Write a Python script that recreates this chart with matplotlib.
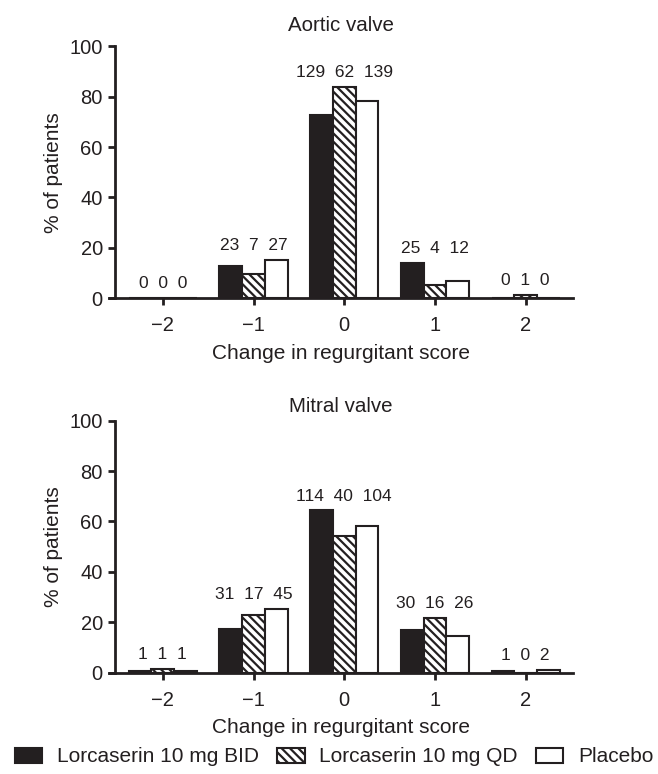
import matplotlib
matplotlib.use("Agg")
import matplotlib.pyplot as plt
import numpy as np

plt.rcParams["font.family"] = ["Liberation Sans", "DejaVu Sans"]
plt.rcParams["hatch.linewidth"] = 1.6

scores = [-2, -1, 0, 1, 2]
score_labels = ["\u22122", "\u22121", "0", "1", "2"]
groups = ["Lorcaserin 10 mg BID", "Lorcaserin 10 mg QD", "Placebo"]

# % of patients per score (aortic)
aortic_bid = [0.0, 13.0, 72.9, 14.1, 0.0]
aortic_qd = [0.0, 9.5, 83.8, 5.4, 1.4]
aortic_pbo = [0.0, 15.2, 78.1, 6.7, 0.0]
aortic_n_bid = [0, 23, 129, 25, 0]
aortic_n_qd = [0, 7, 62, 4, 1]
aortic_n_pbo = [0, 27, 139, 12, 0]

# % of patients per score (mitral)
mitral_bid = [0.6, 17.5, 64.4, 16.9, 0.6]
mitral_qd = [1.4, 23.0, 54.1, 21.6, 0.0]
mitral_pbo = [0.6, 25.3, 58.4, 14.6, 1.1]
mitral_n_bid = [1, 31, 114, 30, 1]
mitral_n_qd = [1, 17, 40, 16, 0]
mitral_n_pbo = [1, 45, 104, 26, 2]

fig = plt.figure(figsize=(6.58, 7.74), dpi=100)
ax1 = fig.add_axes([0.166, 0.6146, 0.7047, 0.3256])
ax2 = fig.add_axes([0.166, 0.1309, 0.7047, 0.3256])

w = 0.25
ink = "#231f20"
styles = [dict(color=ink, edgecolor=ink),
          dict(color="white", edgecolor=ink, hatch="\\\\\\\\"),
          dict(color="white", edgecolor=ink)]


def panel(ax, title, vals, counts, title_pad):
    x = np.array(scores, dtype=float)
    bars = []
    for i, (v, st) in enumerate(zip(vals, styles)):
        b = ax.bar(x + (i - 1) * w, v, w, linewidth=1.5, **st)
        bars.append(b)
    for j in range(len(scores)):
        top = max(vals[0][j], vals[1][j], vals[2][j]) + 5.7
        lab = "  ".join(str(c[j]) for c in counts)
        ax.text(x[j], top, lab, ha="center", va="center", fontsize=12.5, color=ink)
    ax.set_xlim(-2.59, 2.52)
    ax.set_ylim(0, 100)
    ax.spines["left"].set_position(("data", -2.53))
    ax.spines["left"].set_bounds(0, 100)
    for s in ["top", "right"]:
        ax.spines[s].set_visible(False)
    for s in ["left", "bottom"]:
        ax.spines[s].set_linewidth(2)
        ax.spines[s].set_color(ink)
    ax.set_xticks(scores)
    ax.set_xticklabels(score_labels)
    ax.set_yticks([0, 20, 40, 60, 80, 100])
    ax.tick_params(axis="both", labelsize=14.5, width=2, length=5, color=ink,
                   labelcolor=ink)
    ax.tick_params(axis="x", pad=8)
    ax.set_xlabel("Change in regurgitant score", fontsize=15, labelpad=6, color=ink)
    ax.set_ylabel("% of patients", fontsize=15, labelpad=5, color=ink)
    ax.set_title(title, fontsize=14.8, pad=title_pad, color=ink)
    return bars


bars = panel(ax1, "Aortic valve", [aortic_bid, aortic_qd, aortic_pbo],
             [aortic_n_bid, aortic_n_qd, aortic_n_pbo], 11)
panel(ax2, "Mitral valve", [mitral_bid, mitral_qd, mitral_pbo],
      [mitral_n_bid, mitral_n_qd, mitral_n_pbo], 6)

leg = fig.legend([b[0] for b in bars], groups, loc="center", ncol=3,
                 bbox_to_anchor=(0.508, (774 - 757) / 774),
                 frameon=False, fontsize=15, handlelength=1.3, handleheight=0.7,
                 columnspacing=0.9, handletextpad=0.7, borderpad=0)
for t in leg.get_texts():
    t.set_color(ink)

fig.savefig("out.png", dpi=100)
